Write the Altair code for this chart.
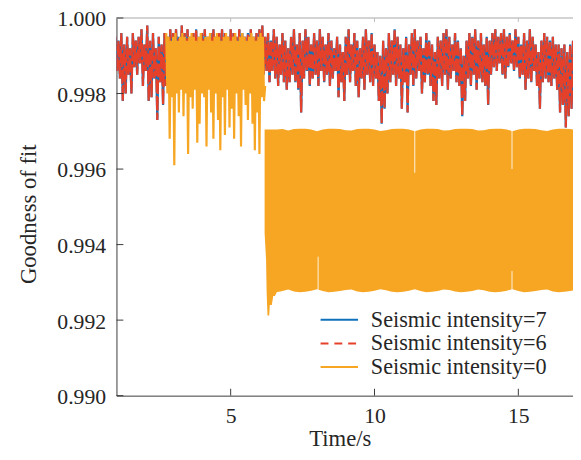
import altair as alt
import pandas as pd

# ---------------- data ----------------
x_ticks = [5, 10, 15]
y_ticks = [0.990, 0.992, 0.994, 0.996, 0.998, 1.000]
legend_labels = ["Seismic intensity=7", "Seismic intensity=6", "Seismic intensity=0"]

# intensity 6 / 7 signal: alternating upper and lower swings every 0.05 s from t = 1.00 s
swing_up_67 = [
    .9995, .9994, .9996, .9993, .9995, .9992, .9996, .9994, .9995, .9997,
    .9993, .9998, .9994, .9996, .9992, .9995, .9993, .9996, .9995, .9997,
    .9996, .9997, .9995, .9998, .9996, .9997, .9995, .9996, .9997, .9995,
    .9996, .9997, .9995, .9996, .9997, .9995, .9996, .9997, .9996, .9995,
    .9997, .9996, .9995, .9997, .9996, .9995, .9996, .9997, .9995, .9996,
    .9997, .9998, .9995, .9996, .9994, .9997, .9995, .9993, .9996, .9994,
    .9992, .9995, .9997, .9993, .9996, .9994, .9997, .9995, .9993, .9996,
    .9994, .9997, .9995, .9993, .9996, .9994, .9992, .9995, .9993, .9991,
    .9995, .9997, .9993, .9996, .9994, .9992, .9995, .9997, .9994, .9996,
    .9993, .9991, .9990, .9994, .9992, .9996, .9994, .9997, .9995, .9993,
    .9992, .9995, .9993, .9996, .9997, .9994, .9995, .9992, .9996, .9994,
    .9993, .9991, .9995, .9994, .9996, .9997, .9995, .9993, .9996, .9994,
    .9992, .9990, .9994, .9996, .9995, .9997, .9994, .9996, .9993, .9995,
    .9994, .9996, .9997, .9995, .9996, .9997, .9995, .9996, .9994, .9997,
    .9995, .9993, .9996, .9994, .9997, .9995, .9993, .9991, .9994, .9996,
    .9995, .9994, .9995, .9993, .9993, .9992, .9993, .9991, .9993, .9994,
]
swing_down_67 = [
    .9986, .9984, .9978, .9980, .9985, .9980, .9987, .9985, .9988, .9982,
    .9986, .9978, .9979, .9984, .9973, .9983, .9977, .9982, .9985, .9987,
    .9986, .9988, .9985, .9987, .9986, .9984, .9988, .9986, .9985, .9987,
    .9986, .9988, .9985, .9987, .9984, .9986, .9988, .9985, .9987, .9986,
    .9985, .9987, .9986, .9988, .9984, .9986, .9987, .9985, .9988, .9986,
    .9987, .9985, .9986, .9983, .9986, .9984, .9982, .9985, .9983, .9981,
    .9983, .9985, .9983, .9981, .9975, .9984, .9986, .9982, .9984, .9985,
    .9982, .9986, .9983, .9985, .9982, .9984, .9986, .9979, .9983, .9978,
    .9985, .9983, .9986, .9982, .9979, .9984, .9981, .9985, .9983, .9982,
    .9984, .9978, .9972, .9976, .9980, .9983, .9985, .9982, .9984, .9976,
    .9983, .9975, .9985, .9982, .9984, .9986, .9980, .9983, .9985, .9982,
    .9978, .9977, .9984, .9982, .9985, .9981, .9984, .9986, .9983, .9982,
    .9974, .9978, .9984, .9982, .9985, .9981, .9984, .9983, .9982, .9977,
    .9985, .9987, .9986, .9988, .9985, .9984, .9987, .9988, .9986, .9987,
    .9984, .9985, .9981, .9984, .9983, .9986, .9982, .9976, .9983, .9984,
    .9983, .9982, .9984, .9981, .9975, .9977, .9971, .9974, .9976, .9980,
]

# intensity 0, first part: alternating swings every 0.04 s from t = 2.76 s
swing_up_0 = [
    .9996, .9995, .9994, .9995, .9996, .9994, .9995, .9996, .9995, .9994,
    .9995, .9996, .9995, .9994, .9995, .9996, .9994, .9995, .9995, .9996,
    .9994, .9995, .9996, .9995, .9994, .9995, .9996, .9995, .9994, .9995,
    .9996, .9994, .9995, .9996, .9995, .9994, .9995, .9996, .9995, .9994,
    .9995, .9996, .9995, .9982,
]
swing_down_0 = [
    .9980, .9968, .9979, .9961, .9980, .9975, .9981, .9974, .9980, .9964,
    .9979, .9976, .9981, .9967, .9972, .9980, .9979, .9966, .9981, .9975,
    .9968, .9980, .9973, .9965, .9979, .9969, .9981, .9971, .9976, .9968,
    .9980, .9974, .9966, .9981, .9977, .9973, .9980, .9972, .9965, .9975,
    .9964, .9979, .9978,
]

# intensity 0, second part: envelope of the fast oscillation
band_t = [6.18, 6.23, 6.25, 6.28, 6.34, 6.36, 6.43, 6.48, 6.54, 6.60,
          6.8, 7.0, 7.2, 7.4, 7.6, 7.8, 8.0, 8.2, 8.4, 8.6,
          8.8, 9.0, 9.2, 9.4, 9.6, 9.8, 10.0, 10.2, 10.4, 10.6,
          10.8, 11.0, 11.2, 11.4, 11.6, 11.8, 12.0, 12.2, 12.4, 12.6,
          12.8, 13.0, 13.2, 13.4, 13.6, 13.8, 14.0, 14.2, 14.4, 14.6,
          14.8, 15.0, 15.2, 15.4, 15.6, 15.8, 16.0, 16.2, 16.4, 16.6,
          16.8, 17.0]
band_hi = [.99705, .99705, .99705, .99705, .99705, .99705, .99705, .99705, .99705, .99705,
           .99706, .99702, .99706, .99707, .99707, .99705, .99700, .99705, .99707, .99707,
           .99706, .99703, .99702, .99706, .99707, .99707, .99705, .99701, .99703, .99706,
           .99707, .99707, .99705, .99700, .99705, .99707, .99707, .99706, .99702, .99703,
           .99706, .99707, .99707, .99706, .99702, .99703, .99706, .99707, .99707, .99705,
           .99700, .99705, .99707, .99707, .99706, .99703, .99701, .99705, .99707, .99707,
           .99706, .99704]
band_lo = [.99430, .99360, .99274, .99212, .99212, .99240, .99240, .99264, .99264, .99274,
           .99277, .99281, .99276, .99274, .99275, .99278, .99282, .99277, .99274, .99275,
           .99277, .99280, .99281, .99276, .99274, .99275, .99278, .99282, .99279, .99275,
           .99274, .99275, .99278, .99282, .99277, .99274, .99275, .99277, .99281, .99280,
           .99276, .99274, .99275, .99277, .99281, .99279, .99275, .99274, .99275, .99278,
           .99282, .99277, .99274, .99275, .99277, .99280, .99281, .99276, .99274, .99275,
           .99277, .99280]

# thin breaks in the intensity-0 band
gap_t = [8.04, 11.40, 14.78, 14.78]
gap_hi = [0.99368, 0.99705, 0.99705, 0.99330]
gap_lo = [0.99277, 0.99590, 0.99600, 0.99277]

# ---------------- styling ----------------
FONT = "Liberation Serif"
TXT = "#262626"
BLUE = "#1172BC"
RED = "#E5402A"
ORANGE = "#F6A623"
W, H = 463, 383


def zigzag(t_start, dt, ups, downs):
    t, v = [], []
    for i in range(max(len(ups), len(downs))):
        if i < len(ups):
            t.append(round(t_start + 2 * i * dt, 3))
            v.append(ups[i])
        if i < len(downs):
            t.append(round(t_start + (2 * i + 1) * dt, 3))
            v.append(downs[i])
    return pd.DataFrame({"t": t, "v": v})


df67 = zigzag(1.00, 0.05, swing_up_67, swing_down_67)
df0a = zigzag(2.76, 0.04, swing_up_0, swing_down_0)
df0b = pd.DataFrame({"t": band_t, "hi": band_hi, "lo": band_lo})
dfgap = pd.DataFrame({"t": gap_t, "hi": gap_hi, "lo": gap_lo})
dummy = pd.DataFrame({"a": [0]})

xs = alt.Scale(domain=[1.03, 16.9], nice=False, zero=False)
ys = alt.Scale(domain=[0.990, 1.000], nice=False, zero=False)

x_axis = alt.Axis(values=x_ticks, format="d", title="Time/s", ticks=False, grid=False,
                  labelFont=FONT, labelFontSize=22, labelColor=TXT, labelPadding=10,
                  labelAngle=0, labelFlush=False,
                  domainColor="#3a3a3a", domainWidth=1,
                  titleFont=FONT, titleFontSize=23, titleFontWeight="normal", titleColor=TXT,
                  titleX=226.5, titleY=51, titleBaseline="alphabetic", titleAlign="center")
y_axis = alt.Axis(values=y_ticks, format=".3f", title="Goodness of fit", ticks=False, grid=False,
                  labelFont=FONT, labelFontSize=22, labelColor=TXT, labelPadding=11,
                  labelFlush=False, labelOffset=1,
                  domainColor="#3a3a3a", domainWidth=1,
                  titleFont=FONT, titleFontSize=23, titleFontWeight="normal", titleColor=TXT,
                  titleAngle=270, titleX=-82, titleY=198.5, titleBaseline="alphabetic",
                  titleAlign="center")


def X(field):
    return alt.X(field, type="quantitative", scale=xs, axis=x_axis, title="Time/s")


def Y(field):
    return alt.Y(field, type="quantitative", scale=ys, axis=y_axis, title="Goodness of fit")


blue = alt.Chart(df67).mark_line(color=BLUE, strokeWidth=2.3, clip=True).encode(
    x=X("t"), y=Y("v"), order="t:Q")
red = alt.Chart(df67).mark_line(color=RED, strokeWidth=2.2, strokeDash=[14, 3], clip=True).encode(
    x=X("t"), y=Y("v"), order="t:Q")
orange_a = alt.Chart(df0a).mark_line(color=ORANGE, strokeWidth=2.2, clip=True).encode(
    x=X("t"), y=Y("v"), order="t:Q")
orange_b = alt.Chart(df0b).mark_area(color=ORANGE, opacity=1, clip=True).encode(
    x=X("t"), y=Y("hi"), y2="lo:Q")
gaps = alt.Chart(dfgap).mark_rule(color="white", strokeWidth=1, opacity=0.85).encode(
    x=X("t"), y=Y("hi"), y2="lo:Q")

top_border = alt.Chart(dummy).mark_rule(color="#c4c4c4", strokeWidth=1.5).encode(
    x=alt.value(0), x2=alt.value(W), y=alt.value(0))
y_tick_marks = alt.Chart(pd.DataFrame({"y": y_ticks})).mark_rule(color="#3a3a3a").encode(
    y=Y("y"), x=alt.value(0), x2=alt.value(7))
x_tick_marks = alt.Chart(pd.DataFrame({"x": x_ticks})).mark_rule(color="#3a3a3a").encode(
    x=X("x"), y=alt.value(H), y2=alt.value(H - 7))
x_top_ticks = alt.Chart(pd.DataFrame({"x": x_ticks})).mark_rule(color="#bdbdbd").encode(
    x=X("x"), y=alt.value(0), y2=alt.value(4))

legend_colors = [BLUE, RED, ORANGE]
legend_dash = [[1, 0], [8, 6], [1, 0]]
legend_rows = [306, 330, 354]
legend_layers = []
for lab, col, dash, ry in zip(legend_labels, legend_colors, legend_dash, legend_rows):
    legend_layers.append(
        alt.Chart(dummy).mark_rule(color=col, strokeWidth=2, strokeDash=dash).encode(
            x=alt.value(207), x2=alt.value(245), y=alt.value(ry)))
    legend_layers.append(
        alt.Chart(dummy).mark_text(align="left", baseline="middle", font=FONT,
                                   fontSize=22.5, color=TXT).encode(
            x=alt.value(258), y=alt.value(ry), text=alt.value(lab)))

chart = alt.layer(
    blue, red, orange_a, orange_b, gaps,
    top_border, y_tick_marks, x_tick_marks, x_top_ticks,
    *legend_layers,
).properties(
    width=W, height=H,
    padding={"left": 110, "top": 7, "right": 0, "bottom": 54},
    autosize=alt.AutoSizeParams(type="none"),
    background="white",
).configure_view(stroke=None)

chart.save("out.html", embed_options={"renderer": "svg", "actions": False})
